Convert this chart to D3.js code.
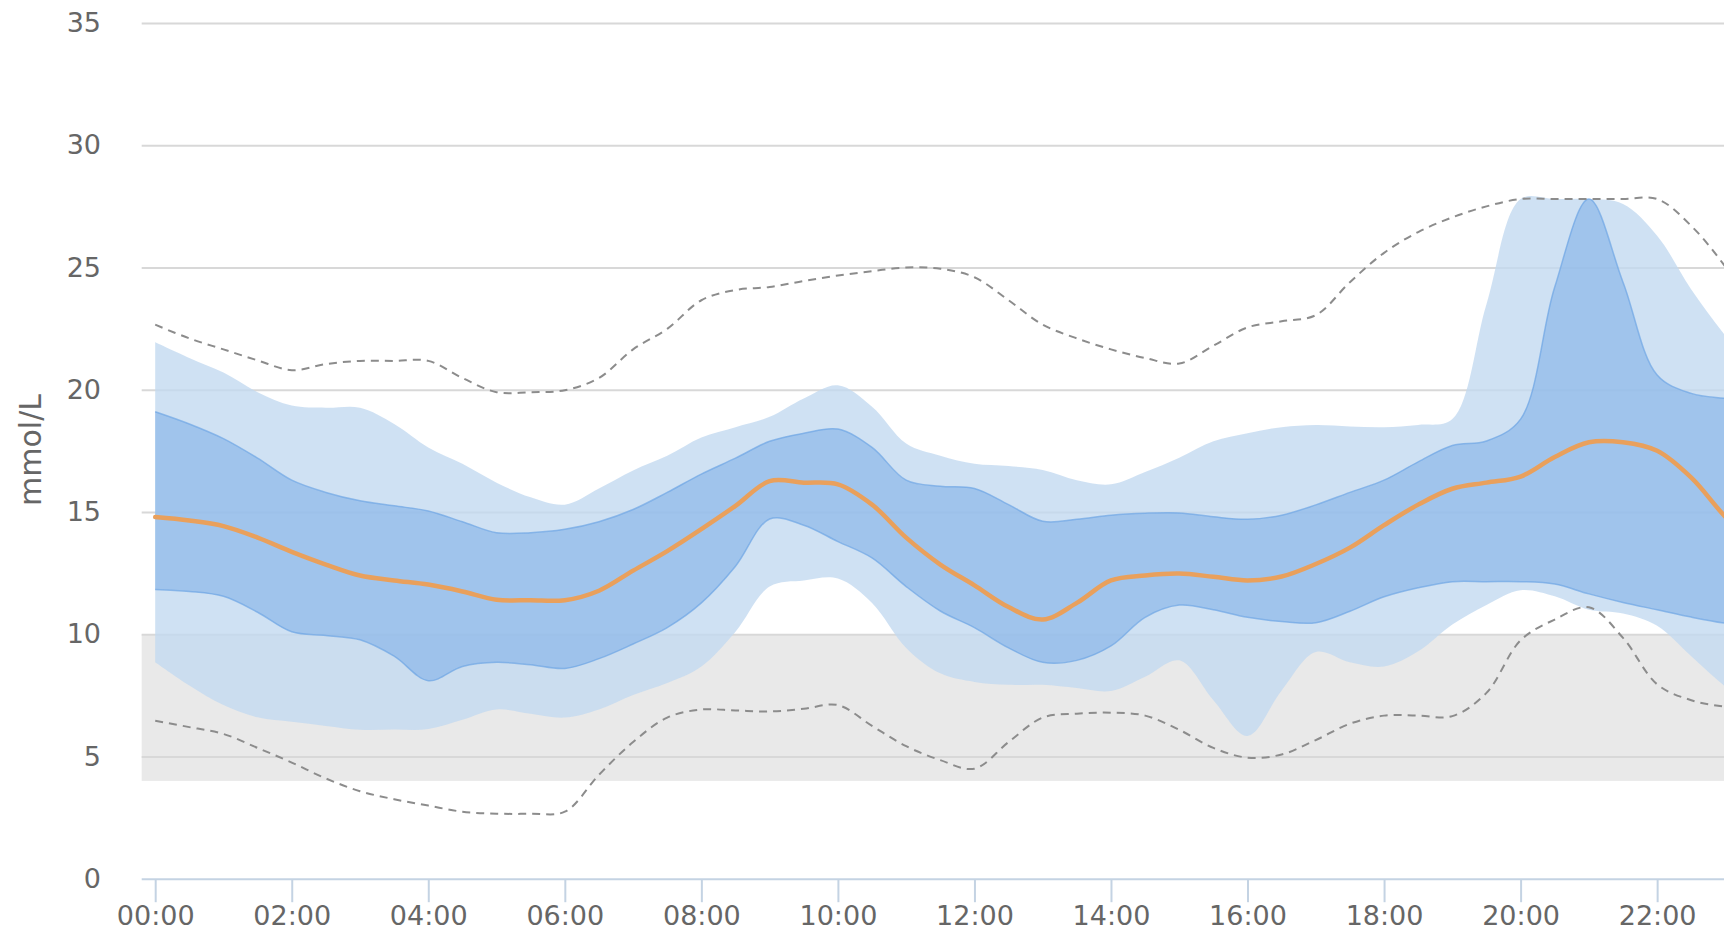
<!DOCTYPE html>
<html>
<head>
<meta charset="utf-8">
<script src="https://cdn.jsdelivr.net/npm/d3@7"></script>
<style>
  html, body { margin: 0; padding: 0; background: #ffffff; overflow: hidden; }
  svg text { font-family: "DejaVu Sans", Verdana, sans-serif; }
</style>
</head>
<body>
<svg id="chart" width="1724" height="933"></svg>
<script>
// ---------------- data ----------------
const hours = [0,0.5,1,1.5,2,2.5,3,3.5,4,4.5,5,5.5,6,6.5,7,7.5,8,8.5,9,9.5,10,10.5,11,11.5,
               12,12.5,13,13.5,14,14.5,15,15.5,16,16.5,17,17.5,18,18.5,19,19.5,20,20.5,21,21.5,22,22.5,23,23.5];

const maxVals = [22.66,22.1,21.65,21.2,20.8,21.05,21.18,21.18,21.18,20.48,19.9,19.9,19.98,20.48,21.65,22.49,
                 23.66,24.08,24.2,24.45,24.67,24.85,25.0,24.95,24.6,23.66,22.66,22.1,21.65,21.3,21.07,21.8,
                 22.55,22.8,23.05,24.4,25.6,26.45,27.05,27.5,27.8,27.8,27.8,27.8,27.8,26.7,25.03,23.0];

const p90 = [21.94,21.3,20.7,19.9,19.35,19.26,19.26,18.6,17.64,16.97,16.2,15.6,15.3,15.96,16.7,17.3,
             18.05,18.47,18.89,19.64,20.18,19.3,17.8,17.3,16.97,16.88,16.72,16.3,16.13,16.63,17.22,17.89,
             18.22,18.47,18.56,18.5,18.47,18.56,18.8,23.5,27.8,27.8,27.8,27.6,26.3,24.1,22.2,20.5];

const p75 = [19.1,18.6,18.0,17.2,16.3,15.8,15.46,15.25,15.04,14.6,14.15,14.15,14.29,14.6,15.1,15.8,
             16.55,17.2,17.89,18.22,18.39,17.64,16.3,16.05,15.96,15.3,14.62,14.7,14.87,14.95,14.96,14.8,
             14.7,14.87,15.29,15.8,16.3,17.05,17.72,17.9,18.8,24.2,27.8,24.4,20.6,19.85,19.64,19.5];

const median = [14.79,14.65,14.42,13.95,13.37,12.85,12.4,12.2,12.03,11.75,11.41,11.39,11.39,11.78,12.6,13.4,
                14.3,15.25,16.26,16.2,16.13,15.3,13.95,12.85,12.0,11.11,10.6,11.28,12.2,12.4,12.48,12.35,
                12.2,12.36,12.87,13.54,14.46,15.3,15.95,16.2,16.45,17.25,17.85,17.85,17.5,16.4,14.8,13.5];

const p25 = [11.83,11.75,11.55,10.9,10.1,9.95,9.77,9.1,8.1,8.68,8.85,8.75,8.6,9.0,9.6,10.27,
             11.28,12.78,14.71,14.46,13.79,13.12,11.95,10.95,10.27,9.44,8.85,8.93,9.52,10.69,11.19,11.0,
             10.69,10.52,10.47,10.94,11.53,11.9,12.15,12.15,12.15,12.05,11.65,11.3,11.0,10.7,10.45,10.3];

const p10 = [8.85,7.9,7.1,6.6,6.42,6.25,6.09,6.1,6.12,6.5,6.92,6.75,6.59,6.92,7.51,8.0,
             8.68,10.1,11.95,12.2,12.28,11.28,9.44,8.4,8.05,7.93,7.93,7.8,7.68,8.26,8.93,7.3,
             5.84,7.7,9.27,8.85,8.68,9.3,10.4,11.2,11.8,11.55,11.0,10.85,10.35,9.1,7.85,6.8];

const minVals = [6.46,6.2,5.92,5.35,4.75,4.1,3.58,3.25,2.99,2.74,2.66,2.66,2.74,4.25,5.59,6.59,
                 6.92,6.88,6.84,6.95,7.1,6.25,5.42,4.85,4.5,5.59,6.59,6.75,6.79,6.67,6.09,5.35,
                 4.95,5.08,5.67,6.34,6.67,6.67,6.65,7.6,9.75,10.6,11.1,9.85,7.95,7.3,7.03,6.9];

const yTicks = [0,5,10,15,20,25,30,35];
const xTickHours = [0,2,4,6,8,10,12,14,16,18,20,22];
const xTickLabels = ["00:00","02:00","04:00","06:00","08:00","10:00","12:00","14:00","16:00","18:00","20:00","22:00"];
const targetRange = [4, 10];
const yTitle = "mmol/L";

// ---------------- layout ----------------
const W = 1724, H = 933;
const plotLeft = 141.7, plotRight = W;
const svg = d3.select("#chart");

const x = d3.scaleLinear().domain([0, 24]).range([155.2, 155.2 + 24 * 68.27]);
const y = d3.scaleLinear().domain([0, 35]).range([878.7, 23]);

const rows = hours.map((h, i) => ({
  h, max: maxVals[i], p90: p90[i], p75: p75[i], med: median[i], p25: p25[i], p10: p10[i], min: minVals[i]
}));

// target band
svg.append("rect")
  .attr("x", plotLeft).attr("width", plotRight - plotLeft)
  .attr("y", y(targetRange[1])).attr("height", y(targetRange[0]) - y(targetRange[1]))
  .attr("fill", "#e9e9e9");

// gridlines
const grid = svg.append("g").attr("transform", `translate(${plotLeft},0)`)
  .call(d3.axisLeft(y).tickValues(yTicks.filter(v => v > 0)).tickSize(-(plotRight - plotLeft)).tickFormat(""));
grid.select(".domain").remove();
grid.selectAll(".tick line").attr("stroke", "#d8d8d8").attr("stroke-width", 2);

// y labels
const yAxis = svg.append("g").attr("transform", "translate(101,0)")
  .call(d3.axisLeft(y).tickValues(yTicks).tickSize(0).tickPadding(0));
yAxis.select(".domain").remove();
yAxis.selectAll("text").attr("font-size", 27).attr("fill", "#666").attr("font-family", '"DejaVu Sans", Verdana, sans-serif');

// y title
svg.append("text")
  .attr("transform", "translate(41,450) rotate(-90)")
  .attr("text-anchor", "middle")
  .attr("font-size", 30)
  .attr("fill", "#666")
  .text(yTitle);

const curve = d3.curveCatmullRom.alpha(0.5);

// 10-90 band
svg.append("path").datum(rows)
  .attr("d", d3.area().curve(curve).x(d => x(d.h)).y0(d => y(d.p10)).y1(d => y(d.p90)))
  .attr("fill", "rgba(195,217,240,0.8)");

// 25-75 band
svg.append("path").datum(rows)
  .attr("d", d3.area().curve(curve).x(d => x(d.h)).y0(d => y(d.p25)).y1(d => y(d.p75)))
  .attr("fill", "rgba(129,177,231,0.6)");
["p75", "p25"].forEach(k => {
  svg.append("path").datum(rows)
    .attr("d", d3.line().curve(curve).x(d => x(d.h)).y(d => y(d[k])))
    .attr("fill", "none").attr("stroke", "rgba(110,165,228,0.7)").attr("stroke-width", 1.5);
});

// min / max dashed
["max", "min"].forEach(k => {
  svg.append("path").datum(rows)
    .attr("d", d3.line().curve(curve).x(d => x(d.h)).y(d => y(d[k])))
    .attr("fill", "none").attr("stroke", "#8c8c8c").attr("stroke-width", 2)
    .attr("stroke-dasharray", "8,6");
});

// median
svg.append("path").datum(rows)
  .attr("d", d3.line().curve(curve).x(d => x(d.h)).y(d => y(d.med)))
  .attr("fill", "none").attr("stroke", "#e9a05c").attr("stroke-width", 4.5)
  .attr("stroke-linejoin", "round").attr("stroke-linecap", "round");

// x axis
svg.append("line")
  .attr("x1", plotLeft).attr("x2", plotRight)
  .attr("y1", 879.2).attr("y2", 879.2)
  .attr("stroke", "#c4d3e3").attr("stroke-width", 2);
const xAxis = svg.append("g").attr("transform", "translate(0,879.2)")
  .call(d3.axisBottom(x).tickValues(xTickHours).tickFormat((d, i) => xTickLabels[i]).tickSize(23).tickPadding(4));
xAxis.select(".domain").remove();
xAxis.selectAll(".tick line").attr("stroke", "#c4d3e3").attr("stroke-width", 2);
xAxis.selectAll("text").attr("font-size", 27).attr("fill", "#666").attr("font-family", '"DejaVu Sans", Verdana, sans-serif');
</script>
</body>
</html>
